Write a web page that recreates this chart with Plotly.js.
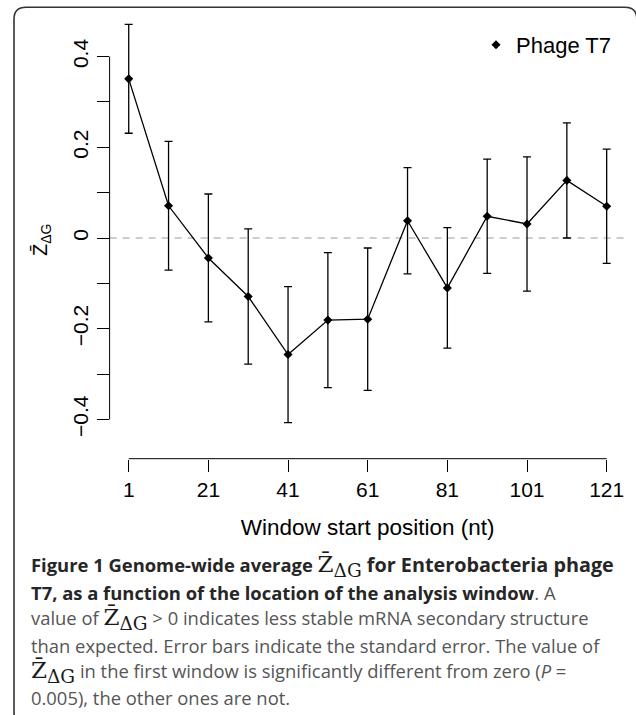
<!DOCTYPE html>
<html>
<head>
<meta charset="utf-8">
<script src="https://cdn.plot.ly/plotly-3.0.1.min.js"></script>
<style>
  html, body { margin: 0; padding: 0; background: #fff; }
  #chart { width: 636px; height: 715px; }
</style>
</head>
<body>
<div id="chart"></div>
<script>
// ---- data ----
var windowStart = [1, 11, 21, 31, 41, 51, 61, 71, 81, 91, 101, 111, 121];
var zMean = [0.351, 0.071, -0.044, -0.129, -0.257, -0.181, -0.179, 0.038, -0.110, 0.048, 0.031, 0.127, 0.070];
var zSE = [0.120, 0.142, 0.141, 0.149, 0.150, 0.149, 0.157, 0.117, 0.133, 0.126, 0.148, 0.127, 0.126];
var seriesName = 'Phage T7';

var xTickVals = [1, 21, 41, 61, 81, 101, 121];
var xTickText = ['1', '21', '41', '61', '81', '101', '121'];
var yTickVals = [-0.4, -0.2, 0, 0.2, 0.4];
var yTickText = ['\u22120.4', '\u22120.2', '0', '0.2', '0.4'];
var yMinorTickVals = [-0.3, -0.1, 0.1, 0.3];

var xTitle = 'Window start position (nt)';
var yTitle = 'Z\u0304<sub>\u0394G</sub>';

var zSerif = '<span style="font-family:\'DejaVu Serif\', \'Liberation Serif\', serif;font-weight:normal;color:#1a1a1a;font-size:23px">Z\u0304<sub><span style="font-size:18.5px">\u0394G</span></sub></span>';
function bold(t, size) {
  return '<b><span style="color:#262626' + (size ? ';font-size:' + size + 'px' : '') + '">' + t + '</span></b>';
}
var captionLines = [
  bold('Figure 1 Genome-wide average ') + zSerif + bold(' for Enterobacteria phage', 19.8),
  bold('T7, as a function of the location of the analysis window') + '. A',
  'value of ' + zSerif + ' &gt; 0 indicates less stable mRNA secondary structure',
  'than expected. Error bars indicate the standard error. The value of',
  zSerif + ' in the first window is significantly different from zero (<i>P</i> =',
  '0.005), the other ones are not.'
];

// ---- layout geometry (pixels of a 636x715 figure) ----
var W = 636, H = 715;
function px(x) { return x / W; }
function py(y) { return 1 - y / H; }

var xDomain = [px(109.6), px(625.8)];
var yDomain = [py(442.1), py(11.25)];
var xAxisPos = py(458.7);

var sans = '"Liberation Sans", Arial, Helvetica, sans-serif';
var capFont = '"Open Sans", "Noto Sans", sans-serif';

var traces = [
  {
    x: windowStart, y: zMean, type: 'scatter', mode: 'lines',
    line: { color: '#000', width: 1.3 }, showlegend: false, hoverinfo: 'skip'
  },
  {
    x: windowStart, y: zMean, type: 'scatter', mode: 'markers', name: seriesName,
    marker: { symbol: 'diamond', size: 7, color: '#000' },
    error_y: { type: 'data', array: zSE, visible: true, color: '#000', thickness: 1.3, width: 4 }
  }
];

var annotations = [
  {
    text: yTitle, textangle: -90, showarrow: false,
    xref: 'paper', yref: 'paper', x: px(42), y: py(240),
    xanchor: 'center', yanchor: 'middle',
    font: { family: sans, size: 20, color: '#000' }
  }
];
var capY = [572.3, 598.5, 625, 651.5, 677.8, 703.5];
captionLines.forEach(function (t, i) {
  annotations.push({
    text: t, showarrow: false, xref: 'paper', yref: 'paper',
    x: px(29), y: py(capY[i] - 6), xanchor: 'left', yanchor: 'middle', align: 'left',
    font: { family: capFont, size: 18.4, color: '#555' }
  });
});

// rounded figure border
var L = px(14), R = px(636.8), T = py(7.3), B = py(724);
var rx = 12 / W, ry = 12 / H;
var borderPath = 'M ' + (L + rx) + ',' + B + ' Q ' + L + ',' + B + ' ' + L + ',' + (B + ry) +
  ' L ' + L + ',' + (T - ry) +
  ' Q ' + L + ',' + T + ' ' + (L + rx) + ',' + T +
  ' L ' + (R - rx) + ',' + T +
  ' Q ' + R + ',' + T + ' ' + R + ',' + (T - ry) +
  ' L ' + R + ',' + B;

var layout = {
  width: W, height: H,
  margin: { l: 0, r: 0, t: 0, b: 0 },
  paper_bgcolor: '#fff', plot_bgcolor: 'rgba(0,0,0,0)',
  font: { family: sans, size: 21, color: '#000' },
  showlegend: true,
  legend: {
    x: px(476), y: py(24), xanchor: 'left', yanchor: 'top',
    font: { family: sans, size: 22, color: '#000' },
    bgcolor: 'rgba(0,0,0,0)', borderwidth: 0
  },
  xaxis: {
    domain: xDomain, range: [-3.8, 125.8], anchor: 'free', position: xAxisPos,
    tickmode: 'array', tickvals: xTickVals, ticktext: xTickText,
    ticks: 'outside', ticklen: 12, tickwidth: 1, tickcolor: '#000',
    showline: false, showgrid: false, zeroline: false,
    tickfont: { family: sans, size: 21, color: '#000' },
    title: { text: xTitle, font: { family: sans, size: 22.5, color: '#000' }, standoff: 19 }
  },
  yaxis: {
    domain: yDomain, range: [-0.45, 0.5],
    tickmode: 'array', tickvals: yTickVals, ticktext: yTickText, tickangle: -90,
    ticks: 'outside', ticklen: 12, tickwidth: 1, tickcolor: '#000',
    minor: { tickmode: 'array', tickvals: yMinorTickVals, ticks: 'outside', ticklen: 12, tickwidth: 1, tickcolor: '#000', showgrid: false },
    showline: false, showgrid: false, zeroline: false,
    tickfont: { family: sans, size: 21, color: '#000' }
  },
  shapes: [
    { type: 'line', xref: 'x domain', yref: 'y', x0: 0, x1: 1, y0: 0, y1: 0,
      line: { color: '#9a9a9a', width: 1.2, dash: '7px,6px' }, layer: 'below' },
    { type: 'line', xref: 'x', yref: 'paper', x0: xTickVals[0], x1: xTickVals[xTickVals.length - 1],
      y0: xAxisPos, y1: xAxisPos, line: { color: '#000', width: 1 } },
    { type: 'line', xref: 'paper', yref: 'y', x0: xDomain[0], x1: xDomain[0],
      y0: yTickVals[0], y1: yTickVals[yTickVals.length - 1], line: { color: '#000', width: 1 } },
    { type: 'path', xref: 'paper', yref: 'paper', path: borderPath,
      line: { color: '#333', width: 1.6 }, fillcolor: 'rgba(0,0,0,0)' }
  ],
  annotations: annotations
};

Plotly.newPlot('chart', traces, layout, { displayModeBar: false, staticPlot: true });
</script>
</body>
</html>
